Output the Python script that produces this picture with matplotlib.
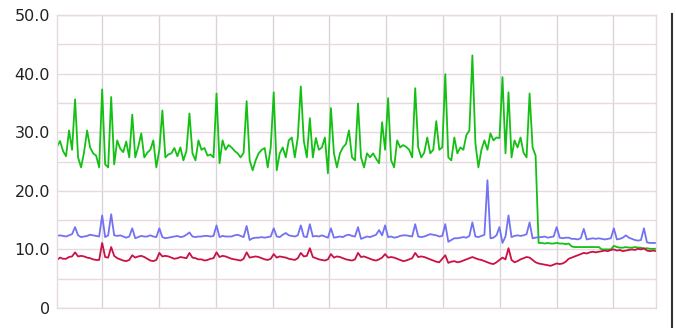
import numpy as np
import matplotlib
matplotlib.use("Agg")
import matplotlib.pyplot as plt
from matplotlib.ticker import FixedLocator, FuncFormatter

plt.rcParams["font.family"] = "DejaVu Sans"

# данные
green = [
    27.5, 28.5, 26.8, 25.9, 30.3, 27.0, 35.6, 25.7, 24.0, 26.6,
    30.3, 27.4, 26.4, 26.0, 24.0, 37.3, 24.5, 24.0, 36.0, 24.5,
    28.6, 27.2, 26.6, 28.4, 25.7, 33.0, 25.7, 27.5, 29.8, 25.7,
    26.5, 27.0, 28.6, 24.0, 27.0, 33.7, 25.7, 26.2, 26.4, 27.3,
    25.9, 27.4, 25.2, 26.8, 33.2, 26.4, 25.2, 28.6, 27.0, 27.3,
    26.0, 26.2, 25.7, 36.6, 24.7, 28.6, 27.0, 27.8, 27.4, 26.8,
    26.4, 25.7, 26.5, 35.3, 25.2, 23.5, 25.2, 26.4, 27.0, 27.3,
    24.0, 27.4, 36.8, 23.5, 26.4, 27.4, 25.7, 28.6, 29.1, 25.7,
    29.1, 37.8, 28.5, 25.7, 32.4, 25.7, 29.0, 27.0, 27.4, 29.1,
    23.0, 34.1, 26.4, 24.0, 26.4, 27.4, 28.0, 30.3, 25.7, 25.2,
    34.9, 25.7, 24.0, 26.4, 25.7, 26.4, 25.5, 24.7, 31.7, 27.0,
    35.8, 25.2, 24.0, 28.6, 27.4, 27.8, 27.5, 27.0, 25.7, 37.5,
    27.4, 25.7, 26.5, 29.1, 26.4, 27.0, 31.9, 27.0, 27.4, 39.9,
    25.7, 25.2, 29.1, 26.4, 27.4, 27.0, 29.5, 30.3, 43.1, 28.1,
    24.0, 27.0, 28.6, 27.0, 29.8, 28.6, 29.1, 29.0, 39.4, 26.4,
    36.8, 25.7, 28.6, 27.4, 29.1, 26.5, 25.7, 36.6, 27.4, 26.0,
    11.1, 11.1, 11.0, 11.1, 11.0, 11.0, 11.1, 11.0, 11.0, 10.9,
    11.0, 10.5, 10.4, 10.4, 10.4, 10.4, 10.4, 10.4, 10.4, 10.4,
    10.4, 10.0, 10.0, 10.0, 10.0, 10.6, 10.4, 10.3, 10.3, 10.4,
    10.3, 10.3, 10.4, 10.3, 10.3, 10.1, 10.2, 10.1, 10.1, 10.1,
]

blue = [
    12.3, 12.4, 12.3, 12.2, 12.4, 12.6, 13.8, 12.4, 12.1, 12.2,
    12.3, 12.5, 12.4, 12.3, 12.2, 15.8, 12.1, 12.4, 16.0, 12.4,
    12.3, 12.4, 12.2, 12.0, 12.2, 13.6, 11.9, 12.1, 12.3, 12.2,
    12.2, 12.4, 12.2, 12.1, 13.6, 12.1, 11.9, 12.0, 12.1, 12.2,
    12.3, 12.1, 12.2, 12.5, 12.9, 12.2, 12.1, 12.2, 12.2, 12.3,
    12.3, 12.2, 12.3, 14.1, 12.1, 12.3, 12.2, 12.2, 12.2, 12.4,
    12.5, 12.3, 12.1, 14.0, 11.6, 11.9, 12.0, 12.0, 12.1, 12.0,
    12.1, 12.2, 13.6, 12.2, 12.1, 12.5, 12.8, 12.4, 12.3, 12.2,
    12.4, 14.1, 12.2, 12.1, 14.3, 12.2, 12.3, 12.2, 12.4, 12.2,
    12.0, 13.6, 12.0, 12.1, 12.2, 12.1, 12.4, 12.5, 12.3, 12.2,
    13.8, 11.8, 12.0, 12.2, 12.1, 12.3, 12.5, 13.3, 12.4, 14.1,
    12.1, 12.2, 12.0, 12.1, 12.3, 12.4, 12.4, 12.3, 12.2, 14.3,
    12.2, 12.1, 12.2, 12.4, 12.6, 12.5, 12.4, 12.2, 12.3, 14.3,
    11.3, 11.6, 11.9, 11.9, 12.0, 12.1, 12.0, 12.3, 14.6, 12.2,
    12.1, 12.3, 12.5, 21.8, 11.9, 12.0, 12.4, 13.8, 11.1, 12.2,
    15.8, 12.1, 12.3, 12.4, 12.3, 12.4, 12.6, 14.6, 11.9, 12.0,
    12.1, 12.1, 12.2, 12.0, 12.1, 12.2, 13.8, 12.0, 11.9, 12.0,
    12.0, 11.8, 11.8, 11.7, 11.9, 13.5, 11.7, 11.8, 11.9, 11.8,
    11.9, 11.8, 11.7, 11.8, 11.9, 13.6, 11.7, 11.8, 12.0, 12.4,
    12.0, 11.8, 11.6, 11.5, 11.6, 13.6, 11.2, 11.1, 11.1, 11.1,
]

red = [
    8.2, 8.6, 8.4, 8.4, 8.7, 8.8, 9.5, 8.8, 8.9, 8.8,
    8.6, 8.5, 8.3, 8.2, 8.2, 11.1, 8.7, 8.6, 10.4, 8.9,
    8.5, 8.3, 8.1, 8.0, 8.2, 9.0, 8.6, 8.8, 8.9, 8.7,
    8.4, 8.1, 8.0, 8.2, 9.4, 8.8, 8.9, 8.8, 8.6, 8.4,
    8.5, 8.7, 8.6, 8.5, 9.4, 8.6, 8.5, 8.3, 8.3, 8.1,
    8.2, 8.4, 8.5, 9.5, 8.7, 8.9, 8.8, 8.6, 8.4, 8.3,
    8.2, 8.1, 8.4, 9.5, 8.6, 8.7, 8.8, 8.7, 8.5, 8.3,
    8.2, 8.4, 9.2, 8.6, 8.8, 8.7, 8.6, 8.4, 8.3, 8.2,
    8.5, 9.4, 8.8, 8.9, 10.2, 8.7, 8.5, 8.3, 8.2, 8.1,
    8.3, 9.2, 8.6, 8.8, 8.7, 8.5, 8.3, 8.2, 8.1, 8.3,
    9.4, 8.7, 8.8, 8.6, 8.4, 8.2, 8.1, 8.3, 8.6, 9.2,
    8.6, 8.7, 8.6, 8.4, 8.2, 8.0, 8.1, 8.3, 8.5, 9.4,
    8.7, 8.8, 8.7, 8.5, 8.3, 8.1, 7.9, 7.8, 8.4, 9.0,
    7.7, 7.9, 8.0, 7.8, 7.9, 8.1, 8.3, 8.5, 8.7, 8.5,
    8.3, 8.2, 8.0, 7.8, 7.6, 7.5, 7.8, 8.2, 8.6, 8.3,
    10.2, 8.2, 7.8, 8.0, 8.3, 8.5, 8.7, 8.6, 8.2, 7.8,
    7.6, 7.5, 7.4, 7.3, 7.2, 7.4, 7.6, 7.5, 7.6, 7.9,
    8.4, 8.6, 8.8, 9.0, 9.2, 9.4, 9.3, 9.5, 9.6, 9.5,
    9.6, 9.7, 9.8, 9.7, 9.9, 10.0, 9.8, 9.9, 9.7, 9.8,
    9.9, 10.0, 9.9, 10.1, 10.0, 10.2, 9.8, 9.7, 9.8, 9.7,
]

y_ticks = [0, 10, 20, 30, 40, 50]

x = np.arange(len(green))
h_grid = "#e8d8e2"
v_grid = "#dcd2dc"

fig = plt.figure(figsize=(6.76, 3.28), dpi=100)
ax = fig.add_axes([57 / 676, 1 - 308 / 328, 599 / 676, 293 / 328])

ax.plot(x, green, color="#14c014", lw=1.3)
ax.plot(x, blue, color="#7272f2", lw=1.3)
ax.plot(x, red, color="#cc1144", lw=1.3)

ax.set_xlim(0, 199)
ax.set_ylim(0, 50)

# сетка
ax.xaxis.set_major_locator(FixedLocator(np.arange(15, 199, 18.87)))
ax.yaxis.set_major_locator(FixedLocator(y_ticks))
ax.yaxis.set_minor_locator(FixedLocator([5, 15, 25, 35, 45]))
ax.yaxis.grid(True, which="both", color=h_grid, lw=1)
ax.xaxis.grid(True, which="major", color=v_grid, lw=1)
ax.set_axisbelow(True)
ax.tick_params(axis="both", which="both", length=0)
ax.tick_params(axis="y", pad=5, labelsize=11.5, labelcolor="#222222")
ax.set_xticklabels([])
ax.yaxis.set_major_formatter(FuncFormatter(lambda v, p: "0" if v == 0 else f"{v:.1f}"))

for s in ax.spines.values():
    s.set_color(h_grid)
    s.set_linewidth(1)

# рамка справа
fig.add_artist(plt.Line2D([672 / 676, 672 / 676], [0, 1 - 14 / 328],
                          color="#333333", lw=1.5))

fig.savefig("out.png", dpi=100)
